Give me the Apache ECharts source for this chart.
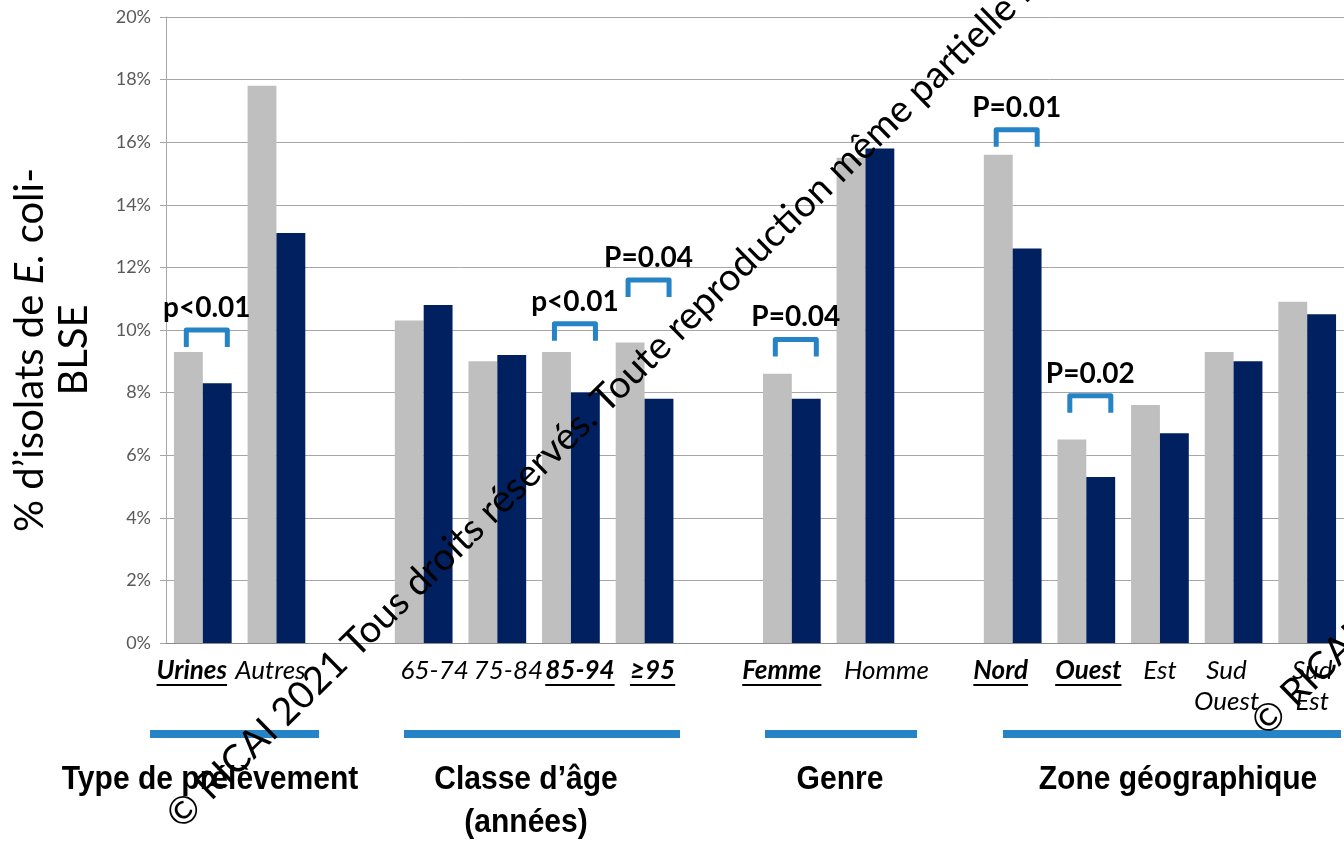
<!DOCTYPE html>
<html><head><meta charset="utf-8">
<script src="https://cdn.jsdelivr.net/npm/echarts@6/dist/echarts.min.js"></script>
<style>html,body{margin:0;padding:0;background:#fff}#c{width:1344px;height:844px}</style>
</head><body><div id="c"></div>
<script>
// ---- data ----
const categories = ['Urines','Autres','','65-74','75-84','85-94','≥95','','Femme','Homme','','Nord','Ouest','Est','Sud\nOuest','Sud\nEst'];
const greyValues = [9.3, 17.8, null, 10.3, 9.0, 9.3, 9.6, null, 8.6, 15.5, null, 15.6, 6.5, 7.6, 9.3, 10.9];
const navyValues = [8.3, 13.1, null, 10.8, 9.2, 8.0, 7.8, null, 7.8, 15.8, null, 12.6, 5.3, 6.7, 9.0, 10.5];
const significant = ['Urines','85-94','≥95','Femme','Nord','Ouest'];
const pCategories = ['Urines','85-94','≥95','Femme','Nord','Ouest'];
const pLevels = [10.0, 10.2, 11.6, 9.7, 16.4, 7.9];
const pLabels = ['p<0.01','p<0.01','P=0.04','P=0.04','P=0.01','P=0.02'];
const yMin = 0, yMax = 20, yStep = 2;
const groupTitles = ['Type de prélèvement', 'Classe d’âge\n(années)', 'Genre', 'Zone géographique'];
const watermark = '© RICAI 2021 Tous droits réservés. Toute reproduction même partielle interdite';

// ---- styling ----
const BLUE = '#2683C6';
// horizontal nudges of category labels (px), as in the original slide
const labelNudge = {'Urines':-11,'Autres':-6,'65-74':11,'75-84':11,'85-94':9,'≥95':8,'Femme':-10,'Homme':21,'Nord':-12,'Ouest':2,'Est':0,'Sud\nOuest':-7,'Sud\nEst':5};
const LABEL_SIZE = 26;
const chart = echarts.init(document.getElementById('c'), null, {renderer:'canvas'});

function baseGraphics(){
  const g = [];
  g.push({type:'text', id:'ytitle', x:52, y:350, rotation:Math.PI/2,
    style:{text:'{n|% d’isolats de }{i|E.}{n| coli-}\n{n|BLSE}', align:'center', verticalAlign:'middle',
      rich:{n:{fontFamily:'Lato', fontSize:40, fill:'#000', lineHeight:44}, i:{fontFamily:'Lato', fontStyle:'italic', fontSize:40, fill:'#000', lineHeight:44}}}});
  const bars = [[150,319],[404,680],[765,917],[1003,1341]];
  bars.forEach((b,i)=>g.push({type:'rect', id:'gb'+i, shape:{x:b[0], y:730, width:b[1]-b[0], height:8}, style:{fill:BLUE}}));
  const tpos = [[210,780],[526,780],[840,780],[1178,780]];
  groupTitles.forEach((t,i)=>{
    const n = t.split('\n').length;
    g.push({type:'text', id:'gt'+i, x:tpos[i][0], y:tpos[i][1] + (n-1)*43/2, scaleX:0.91,
      style:{text:t, align:'center', verticalAlign:'middle', font:'bold 33px "Liberation Sans Narrow", "Liberation Sans", sans-serif', fill:'#000', lineHeight:43}});
  });
  g.push({type:'text', id:'wm1', x:173, y:822, rotation:0.775, z:100,
    style:{text:watermark, align:'left', verticalAlign:'middle', font:'38px Lato', fill:'#000'}});
  g.push({type:'text', id:'wm2', x:1258, y:729, rotation:0.775, z:100,
    style:{text:watermark, align:'left', verticalAlign:'middle', font:'38px Lato', fill:'#000'}});
  return g;
}

function richKey(v){
  const d = labelNudge[v] || 0;
  const bold = significant.includes(v);
  return (bold ? 'b' : 'n') + (d >= 0 ? 'p' : 'm') + Math.abs(d);
}
const rich = {};
categories.forEach(v=>{
  if(!v) return;
  const d = labelNudge[v] || 0;
  const bold = significant.includes(v);
  rich[richKey(v)] = {fontFamily:'Lato', fontStyle:'italic', fontWeight: bold ? 'bold' : 'normal', fontSize:LABEL_SIZE, color:'#000', lineHeight:31,
    padding: d >= 0 ? [0,0,0,2*d] : [0,2*(-d),0,0]};
});

const option = {
  animation:false,
  backgroundColor:'#fff',
  grid:{left:166, top:17, width:1184, height:626},
  xAxis:{type:'category', data:categories,
    axisLine:{lineStyle:{color:'#8C8C8C', width:1}},
    axisTick:{show:false},
    axisLabel:{interval:0, margin:12, verticalAlign:'top',
      formatter:(v)=>{ if(!v) return ''; const k = richKey(v); return v.split('\n').map(s=>'{'+k+'|'+s+'}').join('\n'); },
      rich:rich}},
  yAxis:{type:'value', min:yMin, max:yMax, interval:yStep,
    axisLine:{show:true, lineStyle:{color:'#A6A6A6'}},
    axisTick:{show:true, length:6, lineStyle:{color:'#A6A6A6'}},
    splitLine:{lineStyle:{color:'#A6A6A6', width:1}},
    axisLabel:{formatter:'{value}%', fontFamily:'Lato', fontSize:18, color:'#595959', margin:15}},
  series:[
    {type:'bar', name:'grey', data:greyValues, barGap:'0%', barCategoryGap:'21.6%', itemStyle:{color:'#BFBFBF'}},
    {type:'bar', name:'navy', data:navyValues, barGap:'0%', barCategoryGap:'21.6%', itemStyle:{color:'#002060'}},
    {type:'custom', name:'p', clip:false, z:5,
      data:pCategories.map((c,i)=>[categories.indexOf(c), pLevels[i]]),
      renderItem:(params, api)=>{
        const p = api.coord([api.value(0), api.value(1)]);
        const cx = p[0]+4, top = p[1], hw = 20.5, h = 17;
        return {type:'group', children:[
          {type:'polyline', shape:{points:[[cx-hw, top+h],[cx-hw, top],[cx+hw, top],[cx+hw, top+h]]},
            style:{stroke:BLUE, lineWidth:5, fill:null, lineJoin:'round'}},
          {type:'text', x:cx, y:top-22, style:{text:pLabels[params.dataIndex], font:'bold 28px Lato', fill:'#000', align:'center', verticalAlign:'middle'}}
        ]};
      }}
  ],
  graphic: baseGraphics()
};
chart.setOption(option);

// underline significant category labels
const ctx = document.createElement('canvas').getContext('2d');
ctx.font = 'italic bold ' + LABEL_SIZE + 'px Lato';
const g = baseGraphics();
significant.forEach((c,i)=>{
  const idx = categories.indexOf(c);
  const x = chart.convertToPixel({xAxisIndex:0}, idx) + (labelNudge[c] || 0);
  const w = ctx.measureText(c).width;
  g.push({type:'rect', id:'ul'+i, shape:{x:x-w/2, y:684, width:w, height:2}, style:{fill:'#000'}});
});
chart.setOption({graphic:g});
</script></body></html>
